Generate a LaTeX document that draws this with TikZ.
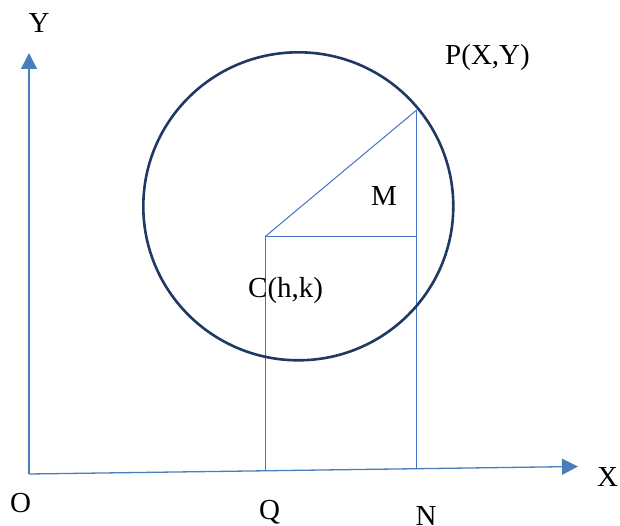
\documentclass[tikz,border=0pt]{standalone}
\usepackage{fontspec}
\setmainfont{Liberation Serif}
\usetikzlibrary{arrows.meta}
\definecolor{linblue}{RGB}{68,114,196}
\definecolor{axblue}{RGB}{74,126,187}
\definecolor{navy}{RGB}{32,56,100}
\begin{document}
\begin{tikzpicture}[x=1pt,y=-1pt,
  axis/.style={draw=axblue,line width=1.3pt,-{Triangle[length=16pt,width=16pt]},color=axblue},
  thin line/.style={draw=linblue,line width=1pt},
  lbl/.style={anchor=base,inner sep=0pt,font=\fontsize{29}{32}\selectfont}]
\useasboundingbox (0,0) rectangle (620,526);
% points
\coordinate (O) at (29,474);
\coordinate (Ytip) at (29,53);
\coordinate (Xtip) at (578,466.5);
\coordinate (C) at (265,236.7);
\coordinate (P) at (416.7,110);
\coordinate (M) at (416.7,236.7);
\coordinate (Qf) at (265,470.8);
\coordinate (Nf) at (416.7,468.7);
\coordinate (Ctr) at (298.3,206.3);
% axes
\draw[axis] (O) -- (Ytip);
\draw[axis] (O) -- (Xtip);
% construction lines
\draw[thin line] (C) -- (P);
\draw[thin line] (C) -- (M);
\draw[thin line] (P) -- (M) -- (Nf);
\draw[thin line] (C) -- (Qf);
% circle
\draw[navy,line width=2.6pt] (Ctr) ellipse [x radius=155, y radius=154];
% labels
\node[lbl] (lY) at (39,33) {Y};
\node[lbl] (lP) at (487.5,65) {P(X,Y)};
\node[lbl] (lM) at (384,206) {M};
\node[lbl,anchor=base west] (lC) at (248,297) {C(h,k)};
\node[lbl] (lX) at (607.5,486) {X};
\node[lbl] (lO) at (20.5,512.5) {O};
\node[lbl] (lQ) at (269.5,519) {Q};
\node[lbl] (lN) at (426,525.5) {N};
\end{tikzpicture}
\end{document}
